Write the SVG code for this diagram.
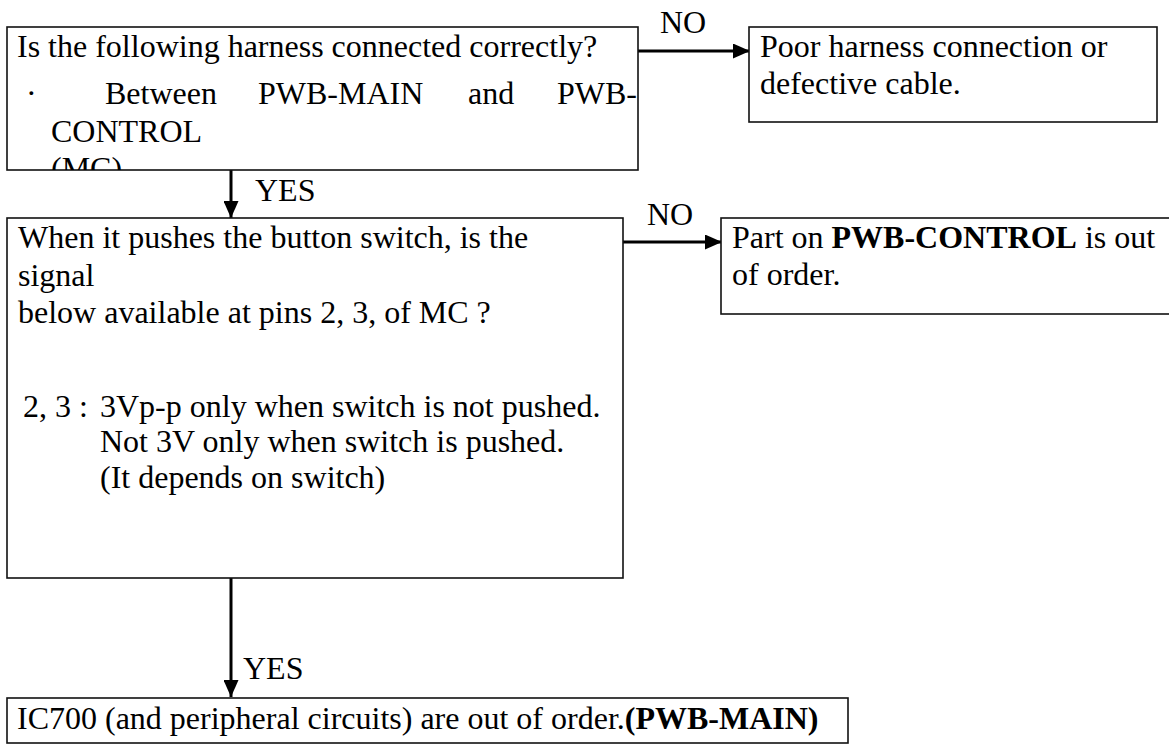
<svg xmlns="http://www.w3.org/2000/svg" width="1169" height="745" viewBox="0 0 1169 745">
<style>
.box{fill:#fff;stroke:#111;stroke-width:1.6}
.t{font-family:"Liberation Serif","Times New Roman",serif;font-size:32px;fill:#000}
.b{font-weight:bold}
.c{stroke:#000;stroke-width:3;fill:none}
</style>
<defs>
<marker id="ah" markerUnits="userSpaceOnUse" markerWidth="17" markerHeight="15" refX="17" refY="7.5" orient="auto">
<path d="M0,0 L17,7.5 L0,15 z" fill="#000"/>
</marker>
<clipPath id="clip1"><rect x="7" y="27" width="631" height="143"/></clipPath>
</defs>
<rect width="1169" height="745" fill="#fff"/>
<g id="connectors">
<line class="c" x1="638" y1="51" x2="750" y2="51" marker-end="url(#ah)"/>
<line class="c" x1="231" y1="170" x2="231" y2="218" marker-end="url(#ah)"/>
<line class="c" x1="623" y1="242" x2="722" y2="242" marker-end="url(#ah)"/>
<line class="c" x1="231" y1="578" x2="231" y2="697" marker-end="url(#ah)"/>
<text class="t" x="660" y="33">NO</text>
<text class="t" x="255" y="201">YES</text>
<text class="t" x="647" y="225">NO</text>
<text class="t" x="243" y="679">YES</text>
</g>
<g id="q1">
<rect class="box" x="7" y="27" width="631" height="143"/>
<g clip-path="url(#clip1)">
<text class="t" x="17" y="57">Is the following harness connected correctly?</text>
<text class="t" x="26" y="104">·</text>
<text class="t" x="105" y="104">Between</text>
<text class="t" x="258" y="104">PWB-MAIN</text>
<text class="t" x="468" y="104">and</text>
<text class="t" x="557" y="104">PWB-</text>
<text class="t" x="51" y="142">CONTROL</text>
<text class="t" x="51" y="179">(MC)</text>
</g>
</g>
<g id="r1">
<rect class="box" x="749" y="27" width="408" height="95"/>
<text class="t" x="760" y="57">Poor harness connection or</text>
<text class="t" x="760" y="94">defective cable.</text>
</g>
<g id="q2">
<rect class="box" x="7" y="218" width="616" height="360"/>
<text class="t" x="18" y="248">When it pushes the button switch, is the</text>
<text class="t" x="18" y="286">signal</text>
<text class="t" x="18" y="323">below available at pins 2, 3, of MC ?</text>
<text class="t" x="23" y="417">2, 3 :</text>
<text class="t" x="100" y="417">3Vp-p only when switch is not pushed.</text>
<text class="t" x="100" y="452">Not 3V only when switch is pushed.</text>
<text class="t" x="100" y="488">(It depends on switch)</text>
</g>
<g id="r2">
<rect class="box" x="721" y="218" width="460" height="96"/>
<text class="t" x="732" y="248">Part on <tspan class="b">PWB-CONTROL</tspan> is out</text>
<text class="t" x="732" y="285">of order.</text>
</g>
<g id="r3">
<rect class="box" x="7" y="698" width="841" height="45"/>
<text class="t" x="17" y="729">IC700 (and peripheral circuits) are out of order.<tspan class="b">(PWB-MAIN)</tspan></text>
</g>
</svg>
